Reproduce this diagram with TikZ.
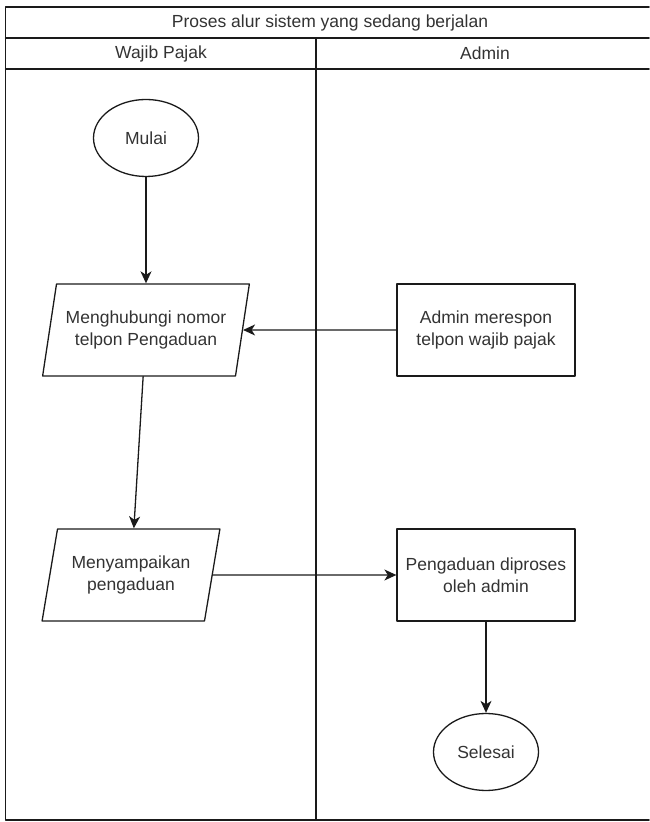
\documentclass[tikz,border=0pt]{standalone}
\usepackage{fontspec}
\setmainfont{Liberation Sans}
\usepackage{tikz}
\usetikzlibrary{shapes.geometric,arrows.meta}
\definecolor{ink}{HTML}{333333}
\definecolor{rule}{HTML}{1A1A1A}
\newcommand{\flowfont}{\fontsize{17.5pt}{22pt}\selectfont}
\tikzset{
  lane/.style={draw=rule, line width=1.5pt},
  term/.style={ellipse, draw=rule, line width=1.3pt, minimum width=105pt, minimum height=77pt, inner sep=0pt},
  io/.style={trapezium, trapezium left angle=72, trapezium right angle=108, trapezium stretches=true,
    draw=rule, line width=1.3pt, minimum height=92pt, inner sep=0pt, align=center},
  proc/.style={rectangle, draw=rule, line width=1.3pt, minimum width=178pt, minimum height=92pt, inner sep=0pt, align=center},
  flow/.style={draw=rule, line width=1.3pt, -{Stealth[length=12pt, width=11pt, inset=3.5pt]}},
  lab/.style={text=ink, font=\flowfont}
}
\begin{document}
\begin{tikzpicture}[x=1pt, y=1pt, line cap=round, line join=round, every node/.style={text=ink, font=\flowfont}]
  \useasboundingbox (0,0) rectangle (649,822);
  % swimlanes
  \draw[lane] (649,815) -- (5.7,815) -- (5.7,2) -- (649,2);
  \draw[lane] (5.7,784) -- (649,784);
  \draw[lane] (5.7,753) -- (649,753);
  \draw[lane] (316,784) -- (316,2);
  \node[lab] (judul) at (330,799.5) {Proses alur sistem yang sedang berjalan};
  \node[lab] (wp) at (161,768.5) {Wajib Pajak};
  \node[lab] (adm) at (485,768.5) {Admin};
  % flow
  \node[term] (mulai) at (146,684) {Mulai};
  \node[io, minimum width=207pt] (hubungi) at (146,492) {Menghubungi nomor\\telpon Pengaduan};
  \node[proc] (respon) at (486,492) {Admin merespon\\telpon wajib pajak};
  \node[io, minimum width=178pt] (sampai) at (131,247) {Menyampaikan\\pengaduan};
  \node[proc] (proses) at (486,247) {Pengaduan diproses\\oleh admin};
  \node[term] (selesai) at (486,70) {Selesai};
  \draw[flow] (mulai) -- (hubungi);
  \draw[flow] (respon) -- (hubungi);
  \draw[flow] (hubungi) -- (sampai);
  \draw[flow] (sampai) -- (proses);
  \draw[flow] (proses) -- (selesai);
\end{tikzpicture}
\end{document}
